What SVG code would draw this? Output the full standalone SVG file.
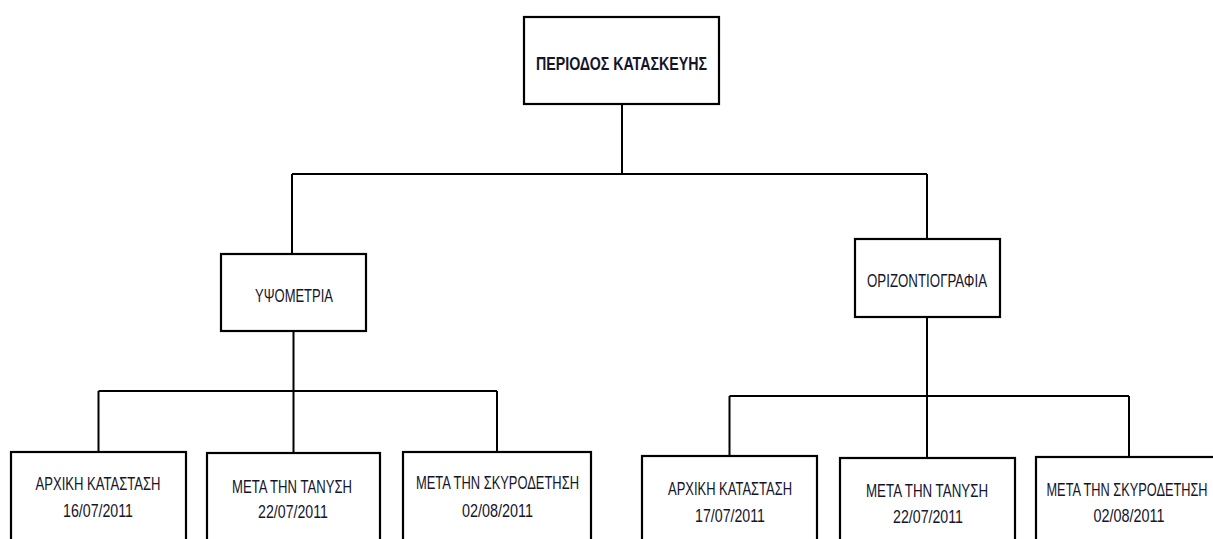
<svg xmlns="http://www.w3.org/2000/svg" width="1213" height="539" viewBox="0 0 1213 539">
<style>
.box{fill:#fff;stroke:#000;stroke-width:2.2}
.ln{fill:none;stroke:#000;stroke-width:2}
text{font-family:"Liberation Sans","DejaVu Sans",sans-serif;font-size:18.5px;fill:#14142a;text-anchor:middle}
.b{font-weight:bold}
</style>
<rect width="1213" height="539" fill="#fff"/>
<g id="connectors">
<path class="ln" d="M622 104V174M292 174H927M292 174V254M927 174V239"/>
<path class="ln" d="M293.5 331V391M98.5 391H497M98.5 391V452M293.5 391V453M497 391V452"/>
<path class="ln" d="M927 317V396M729.5 396H1129M729.5 396V456M927 396V458M1129 396V457"/>
</g>
<g id="n-root"><rect class="box" x="524" y="17" width="195" height="87"/><text class="b" x="621.5" y="70" textLength="171" lengthAdjust="spacingAndGlyphs">ΠΕΡΙΟΔΟΣ ΚΑΤΑΣΚΕΥΗΣ</text></g>
<g id="n-ypsometria"><rect class="box" x="221" y="254" width="145" height="77"/><text x="294" y="302" textLength="78" lengthAdjust="spacingAndGlyphs">ΥΨΟΜΕΤΡΙΑ</text></g>
<g id="n-oriz"><rect class="box" x="855" y="239" width="145" height="78"/><text x="927" y="287" textLength="120" lengthAdjust="spacingAndGlyphs">ΟΡΙΖΟΝΤΙΟΓΡΑΦΙΑ</text></g>
<g id="n-l1"><rect class="box" x="11" y="452" width="175" height="100"/><text x="98" y="490" textLength="125" lengthAdjust="spacingAndGlyphs">ΑΡΧΙΚΗ ΚΑΤΑΣΤΑΣΗ</text><text x="98" y="517" textLength="70" lengthAdjust="spacingAndGlyphs">16/07/2011</text></g>
<g id="n-l2"><rect class="box" x="207" y="453" width="173" height="100"/><text x="292" y="493" textLength="120" lengthAdjust="spacingAndGlyphs">ΜΕΤΑ ΤΗΝ ΤΑΝΥΣΗ</text><text x="293" y="518" textLength="70" lengthAdjust="spacingAndGlyphs">22/07/2011</text></g>
<g id="n-l3"><rect class="box" x="403" y="452" width="188" height="100"/><text x="497.5" y="489" textLength="163" lengthAdjust="spacingAndGlyphs">ΜΕΤΑ ΤΗΝ ΣΚΥΡΟΔΕΤΗΣΗ</text><text x="497.5" y="517" textLength="71" lengthAdjust="spacingAndGlyphs">02/08/2011</text></g>
<g id="n-r1"><rect class="box" x="642" y="456" width="175" height="100"/><text x="730" y="495" textLength="124" lengthAdjust="spacingAndGlyphs">ΑΡΧΙΚΗ ΚΑΤΑΣΤΑΣΗ</text><text x="730" y="522" textLength="70" lengthAdjust="spacingAndGlyphs">17/07/2011</text></g>
<g id="n-r2"><rect class="box" x="840" y="458" width="175" height="100"/><text x="927" y="497" textLength="122" lengthAdjust="spacingAndGlyphs">ΜΕΤΑ ΤΗΝ ΤΑΝΥΣΗ</text><text x="928" y="523" textLength="70" lengthAdjust="spacingAndGlyphs">22/07/2011</text></g>
<g id="n-r3"><rect class="box" x="1036" y="457" width="186" height="100"/><text x="1127" y="496" textLength="161" lengthAdjust="spacingAndGlyphs">ΜΕΤΑ ΤΗΝ ΣΚΥΡΟΔΕΤΗΣΗ</text><text x="1129" y="522" textLength="71" lengthAdjust="spacingAndGlyphs">02/08/2011</text></g>
</svg>
